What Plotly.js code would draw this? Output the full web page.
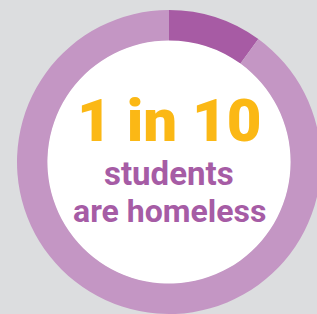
<!DOCTYPE html>
<html>
<head>
<meta charset="utf-8">
<script src="https://cdn.plot.ly/plotly-3.0.1.min.js"></script>
<style>
html,body{margin:0;padding:0;overflow:hidden;background:#dcdddf;}
#chart{width:325px;height:314px;}
</style>
</head>
<body>
<div id="chart"></div>
<script>
// Data
var labels = ["Homeless", "Not homeless"];
var values = [10, 90];
var sliceColors = ["#a75ba4", "#c496c4"];
var headline = "1 in 10";
var line2 = "students";
var line3 = "are homeless";

var W = 325, H = 314;
var cx = 169, cy = 162, R = 152, Rin = 122;

var trace = {
  type: "pie",
  labels: labels,
  values: values,
  sort: false,
  direction: "clockwise",
  rotation: 0,
  hole: 0.8,
  textinfo: "none",
  hoverinfo: "label+percent",
  marker: {colors: sliceColors, line: {width: 0}},
  showlegend: false,
  domain: {x: [(cx - R) / W, (cx + R) / W], y: [(H - cy - R) / H, (H - cy + R) / H]}
};

var layout = {
  width: W, height: H,
  margin: {l: 0, r: 0, t: 0, b: 0},
  paper_bgcolor: "#dcdddf",
  plot_bgcolor: "#dcdddf",
  showlegend: false,
  shapes: [{
    type: "circle", xref: "paper", yref: "paper", layer: "below",
    x0: (cx - Rin) / W, x1: (cx + Rin) / W,
    y0: (H - cy - Rin) / H, y1: (H - cy + Rin) / H,
    fillcolor: "#ffffff", line: {width: 0}
  }],
  annotations: [
    {text: headline, xref: "paper", yref: "paper", x: cx / W, y: 1 - 120 / H,
     xanchor: "center", yanchor: "middle", showarrow: false,
     font: {family: "Roboto", size: 60, weight: 900, color: "#fbb815"}},
    {text: "<b>" + line2 + "</b>", xref: "paper", yref: "paper", x: cx / W, y: 1 - 173 / H,
     xanchor: "center", yanchor: "middle", showarrow: false,
     font: {family: "Roboto", size: 33, color: "#a65ca5"}},
    {text: "<b>" + line3 + "</b>", xref: "paper", yref: "paper", x: cx / W, y: 1 - 211 / H,
     xanchor: "center", yanchor: "middle", showarrow: false,
     font: {family: "Roboto", size: 32, color: "#a65ca5"}}
  ]
};

Plotly.newPlot("chart", [trace], layout, {displayModeBar: false, staticPlot: true});
</script>
</body>
</html>
